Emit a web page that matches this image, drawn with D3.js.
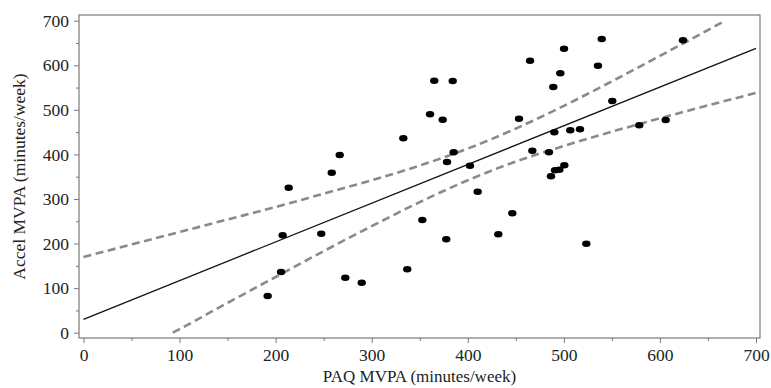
<!DOCTYPE html>
<html>
<head>
<meta charset="utf-8">
<script src="https://cdn.jsdelivr.net/npm/d3@7"></script>
<style>
  html, body { margin: 0; padding: 0; background: #fff; }
  svg { display: block; }
  text { font-family: "Liberation Serif", "Times New Roman", serif; fill: #222; }
</style>
</head>
<body>
<svg id="chart" width="771" height="388"></svg>
<script>
// ---- data ----
const paq = [539.4, 500.2, 464.8, 365.1, 384.3, 535.5, 496.3, 489.0, 360.7, 373.9,
             550.4, 453.3, 578.5, 606.0, 490.1, 506.7, 516.8, 385.3, 378.4, 402.3,
             467.2, 484.5, 500.5, 495.3, 490.8, 486.6, 410.3, 446.3, 352.7, 431.8,
             377.6, 523.4, 332.9, 266.7, 258.4, 213.6, 207.3, 247.5, 205.6, 272.5,
             289.6, 337.0, 191.7, 624.0];
const accel = [659.0, 637.2, 610.3, 565.4, 564.7, 599.0, 582.0, 551.3, 490.0, 477.9,
               519.8, 480.1, 465.3, 477.2, 449.6, 454.1, 456.4, 404.7, 383.0, 374.7,
               408.3, 404.7, 375.6, 365.7, 364.4, 350.9, 316.4, 267.9, 252.9, 220.8,
               209.6, 199.7, 436.2, 398.7, 359.0, 325.3, 218.5, 222.1, 136.2, 123.4,
               112.2, 142.2, 82.3, 656.0];

const regX = [0, 700];
const regY = [30, 638];

const ciUpperX = [0, 50, 100, 150, 200, 250, 300, 350, 400, 450, 500, 550, 600, 650, 668];
const ciUpperY = [170, 198, 226, 254, 282, 312, 342, 375, 413, 458, 509, 564, 621, 679, 700];
const ciLowerX = [93, 100, 150, 200, 250, 300, 350, 400, 450, 500, 550, 600, 650, 700];
const ciLowerY = [0, 8, 67, 125, 183, 239, 293, 342, 384, 419, 451, 481, 510, 538];

const xTicks = [0, 100, 200, 300, 400, 500, 600, 700];
const yTicks = [0, 100, 200, 300, 400, 500, 600, 700];
const xMinor = [50, 150, 250, 350, 450, 550, 650];
const yMinor = [50, 150, 250, 350, 450, 550, 650];

const xTitle = "PAQ MVPA (minutes/week)";
const yTitle = "Accel MVPA (minutes/week)";

// ---- layout ----
const svg = d3.select("#chart");
const frame = { left: 79, right: 760, top: 15, bottom: 338 };

const x = d3.scaleLinear().domain([0, 700]).range([83.5, 756]);
const y = d3.scaleLinear().domain([0, 700]).range([332.7, 20.7]);

const axisColor = "#7a7a7a";

// frame
svg.append("rect")
  .attr("x", frame.left).attr("y", frame.top)
  .attr("width", frame.right - frame.left)
  .attr("height", frame.bottom - frame.top)
  .attr("fill", "none")
  .attr("stroke", axisColor)
  .attr("stroke-width", 1.2);

// x axis
const xAxis = d3.axisBottom(x).tickValues(xTicks).tickSize(5).tickPadding(6).tickFormat(d3.format("d"));
const gx = svg.append("g").attr("transform", `translate(0,${frame.bottom})`).call(xAxis);
gx.select(".domain").remove();
gx.selectAll(".tick line").attr("stroke", axisColor);
gx.selectAll(".tick text").style("font-family", '"Liberation Serif", serif').style("font-size", "17.5px").attr("fill", "#1a1a1a");
const gxm = svg.append("g").attr("transform", `translate(0,${frame.bottom})`)
  .call(d3.axisBottom(x).tickValues(xMinor).tickSize(3).tickFormat(""));
gxm.select(".domain").remove();
gxm.selectAll(".tick line").attr("stroke", axisColor);

// y axis
const yAxis = d3.axisLeft(y).tickValues(yTicks).tickSize(5).tickPadding(5).tickFormat(d3.format("d"));
const gy = svg.append("g").attr("transform", `translate(${frame.left},0)`).call(yAxis);
gy.select(".domain").remove();
gy.selectAll(".tick line").attr("stroke", axisColor);
gy.selectAll(".tick text").style("font-family", '"Liberation Serif", serif').style("font-size", "17.5px").attr("fill", "#1a1a1a");
const gym = svg.append("g").attr("transform", `translate(${frame.left},0)`)
  .call(d3.axisLeft(y).tickValues(yMinor).tickSize(3).tickFormat(""));
gym.select(".domain").remove();
gym.selectAll(".tick line").attr("stroke", axisColor);

// titles
svg.append("text")
  .attr("x", (frame.left + frame.right) / 2)
  .attr("y", 382)
  .attr("text-anchor", "middle")
  .style("font-size", "17px")
  .text(xTitle);

svg.append("text")
  .attr("transform", `translate(25,${(frame.top + frame.bottom) / 2}) rotate(-90)`)
  .attr("text-anchor", "middle")
  .style("font-size", "17.5px")
  .text(yTitle);

// clip to frame
svg.append("clipPath").attr("id", "clip")
  .append("rect")
  .attr("x", frame.left).attr("y", frame.top)
  .attr("width", frame.right - frame.left)
  .attr("height", frame.bottom - frame.top);

const plot = svg.append("g").attr("clip-path", "url(#clip)");

const line = d3.line().x(d => x(d[0])).y(d => y(d[1]));
const curve = d3.line().x(d => x(d[0])).y(d => y(d[1])).curve(d3.curveMonotoneX);

// confidence limits
plot.append("path")
  .datum(ciUpperX.map((v, i) => [v, ciUpperY[i]]))
  .attr("d", curve)
  .attr("fill", "none")
  .attr("stroke", "#8a8a8a")
  .attr("stroke-width", 2.6)
  .attr("stroke-dasharray", "8,4.5");

plot.append("path")
  .datum(ciLowerX.map((v, i) => [v, ciLowerY[i]]))
  .attr("d", curve)
  .attr("fill", "none")
  .attr("stroke", "#8a8a8a")
  .attr("stroke-width", 2.6)
  .attr("stroke-dasharray", "8,4.5");

// regression line
plot.append("path")
  .datum(regX.map((v, i) => [v, regY[i]]))
  .attr("d", line)
  .attr("fill", "none")
  .attr("stroke", "#111")
  .attr("stroke-width", 1.3);

// points
plot.selectAll("ellipse.pt")
  .data(paq.map((v, i) => [v, accel[i]]))
  .join("ellipse")
  .attr("class", "pt")
  .attr("cx", d => x(d[0]))
  .attr("cy", d => y(d[1]))
  .attr("rx", 4.2)
  .attr("ry", 3.3)
  .attr("fill", "#000");
</script>
</body>
</html>
